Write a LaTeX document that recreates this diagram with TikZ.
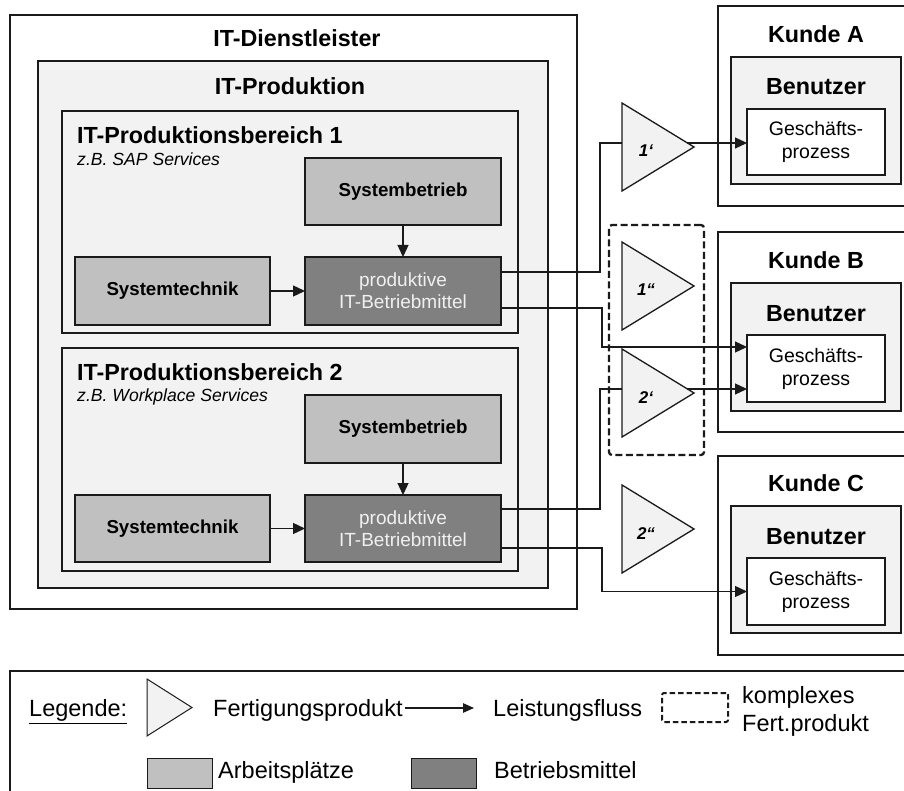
\documentclass[tikz,border=0pt]{standalone}
\usepackage{fontspec}
\setmainfont{Liberation Sans}
\usetikzlibrary{arrows.meta,calc,fit}

\definecolor{edge}{HTML}{1A1A1A}
\definecolor{paper}{HTML}{F2F2F2}
\definecolor{work}{HTML}{C0C0C0}
\definecolor{tool}{HTML}{808080}

\tikzset{
  frame/.style={draw=edge, line width=1.3pt, inner sep=0pt, outer sep=0pt},
  area/.style={frame, fill=white},
  shade/.style={frame, fill=paper},
  size/.style 2 args={minimum width=#1pt, minimum height=#2pt},
  workbox/.style={frame, fill=work, font=\fontsize{18.7}{22}\selectfont\bfseries},
  toolbox/.style={frame, fill=tool, text=white!94!black, align=center,
                  font=\fontsize{19}{22}\selectfont},
  procbox/.style={frame, fill=white, align=center, font=\fontsize{19.5}{23}\selectfont},
  title/.style={anchor=base, inner sep=0pt, font=\fontsize{23.3}{28}\selectfont\bfseries},
  areatitle/.style={title, anchor=base west},
  subtitle/.style={anchor=base west, inner sep=0pt, font=\fontsize{17.6}{21}\selectfont\itshape},
  wire/.style={draw=edge, line width=1.3pt},
  flow/.style={wire, -{Triangle[length=12pt,width=11pt]}},
  product/.style={draw=edge, line width=1.3pt, fill=paper},
  prodlabel/.style={anchor=base, inner sep=0pt, font=\fontsize{17}{20}\selectfont\bfseries\itshape},
  bundle/.style={draw=edge, line width=2.3pt, dash pattern=on 7pt off 3.5pt, rounded corners=3pt,
                 inner sep=0pt, outer sep=0pt},
  legtext/.style={anchor=base west, inner sep=0pt, font=\fontsize{23.5}{29}\selectfont},
}

% Fertigungsprodukt: triangle pointing right, 72 wide and 88 high
% #1 name, #2 left x, #3 top y, #4 label
\newcommand\fprod[4]{%
  \draw[product] (#2,#3) -- ++(72,44) -- ++(-72,44) -- cycle;
  \coordinate (#1in) at (#2,#3+40);
  \coordinate (#1out) at (#2+72*40/44,#3+40);
  \node[prodlabel] (#1) at (#2+24,#3+54) {#4};
}

\begin{document}
\begin{tikzpicture}[x=1pt,y=-1pt]
\useasboundingbox (0,0) rectangle (904,791);
\fill[white] (0,0) rectangle (904,791);
\clip (0,0) rectangle (904,791);

% ---------------- customers ----------------
\node[area, fit={(718,6) (925,206)}] (kA) {};
\node[shade, fit={(731,57) (901,184)}] (uA) {};
\node[title] (kAt) at ($(uA.north)+(0,-14.7)$) {Kunde A};
\node[title] (uAt) at ($(uA.north)+(0,38)$) {Benutzer};
\node[procbox, size={138}{66}] (gA) at (816,142) {\raisebox{-3pt}{Geschäfts-}\\\raisebox{-3pt}{prozess}};

\node[area, fit={(718,232) (925,432)}] (kB) {};
\node[shade, fit={(731,283) (901,411)}] (uB) {};
\node[title] (kBt) at ($(uB.north)+(0,-14.7)$) {Kunde B};
\node[title] (uBt) at ($(uB.north)+(0,38)$) {Benutzer};
\node[procbox, size={138}{67}] (gB) at (816,368.5) {\raisebox{-3pt}{Geschäfts-}\\\raisebox{-3pt}{prozess}};

\node[area, fit={(718,456) (925,655)}] (kC) {};
\node[shade, fit={(731,506) (901,633)}] (uC) {};
\node[title] (kCt) at ($(uC.north)+(0,-14.7)$) {Kunde C};
\node[title] (uCt) at ($(uC.north)+(0,38)$) {Benutzer};
\node[procbox, size={138}{67}] (gC) at (816,591.5) {\raisebox{-3pt}{Geschäfts-}\\\raisebox{-3pt}{prozess}};

% ---------------- IT provider ----------------
\node[area, fit={(10,15) (577,609)}] (dl) {};
\node[title] (dlt) at ($(dl.north)+(3.5,31.7)$) {IT-Dienstleister};
\node[shade, fit={(38,61) (548,588)}] (pr) {};
\node[title] (prt) at ($(pr.north)+(-3,33.3)$) {IT-Produktion};

% area 1
\node[shade, fit={(62,111) (518,333)}] (b1) {};
\node[areatitle] (b1t) at ($(b1.north west)+(15,33)$) {IT-Produktionsbereich 1};
\node[subtitle] (b1s) at ($(b1.north west)+(15,54.7)$) {z.B. SAP Services};
\node[workbox, size={196}{67}] (sb1) at (403,191.5) {Systembetrieb};
\node[workbox, size={195}{68}] (st1) at (172.5,291) {Systemtechnik};
\node[toolbox, size={196}{68}] (pm1) at (403,291) {produktive\\IT-Betriebmittel};

% area 2
\node[shade, fit={(62,348) (518,571)}] (b2) {};
\node[areatitle] (b2t) at ($(b2.north west)+(15,32)$) {IT-Produktionsbereich 2};
\node[subtitle] (b2s) at ($(b2.north west)+(15,53.7)$) {z.B. Workplace Services};
\node[workbox, size={196}{68}] (sb2) at (403,429) {Systembetrieb};
\node[workbox, size={195}{67}] (st2) at (172.5,528.5) {Systemtechnik};
\node[toolbox, size={196}{67}] (pm2) at (403,528.5) {produktive\\IT-Betriebmittel};

% flows inside the areas
\draw[flow] (sb1) -- (pm1);
\draw[flow] (st1) -- (pm1);
\draw[flow] (sb2) -- (pm2);
\draw[flow] (st2) -- (pm2);

% ---------------- products ----------------
\fprod{t1}{622}{103}{1‘}
\fprod{t3}{622}{242}{1“}
\fprod{t2}{622}{349}{2‘}
\fprod{t4}{622}{485}{2“}

% ports on the resources
\coordinate (p1a) at ($(pm1.east)+(0,-19)$);
\coordinate (p1b) at ($(pm1.east)+(0,17)$);
\coordinate (p2a) at ($(pm2.east)+(0,-19.5)$);
\coordinate (p2b) at ($(pm2.east)+(0,19.5)$);
\coordinate (gBa) at ($(gB.north west)+(0,12)$);

\draw[wire] (p1a) -- ++(99,0) |- (t1in);
\draw[flow] (t1out) -- (t1out -| gA.west);
\draw[flow] (p1b) -- ++(101,0) |- (gBa);
\draw[wire] (p2a) -- ++(99,0) |- (t2in);
\draw[flow] (t2out) -- (t2out -| gB.west);
\draw[flow] (p2b) -- ++(101,0) |- (gC.west);

% complex product
\node[bundle, fit={(609,225) (704,455)}] (cx) {};

% ---------------- legend ----------------
\node[area, fit={(10,671) (925,800)}] (legend) {};
\node[legtext] (lgtitle) at (29,716.7) {\underline{Legende:}};
\draw[product, line width=1pt] (147,679) -- (192,707.5) -- (147,736) -- cycle;
\node[legtext] (lgprod) at (213,716.7) {Fertigungsprodukt};
\node[legtext] (lgflow) at (493,716.7) {Leistungsfluss};
\draw[wire, line width=1.1pt, -{Triangle[length=11pt,width=9.5pt]}]
  ($(lgprod.base east)+(2,-8.7)$) -- ($(lgflow.base west)+(-19,-8.7)$);
\node[bundle, line width=2pt, dash pattern=on 5.5pt off 3pt, rounded corners=2pt,
      fit={(662,693) (728,722)}] (lgbundle) {};
\node[legtext] (lgbundle1) at (742,703) {komplexes};
\node[legtext] (lgbundle2) at (742,731.5) {Fert.produkt};
\node[frame, line width=1pt, fill=work, fit={(147,758) (212,788)}] (lgwork) {};
\node[legtext] (lgworkt) at (218,778) {Arbeitsplätze};
\node[frame, line width=1pt, fill=tool, fit={(411,758) (476,788)}] (lgtool) {};
\node[legtext] (lgtoolt) at (494,778) {Betriebsmittel};
\end{tikzpicture}
\end{document}
